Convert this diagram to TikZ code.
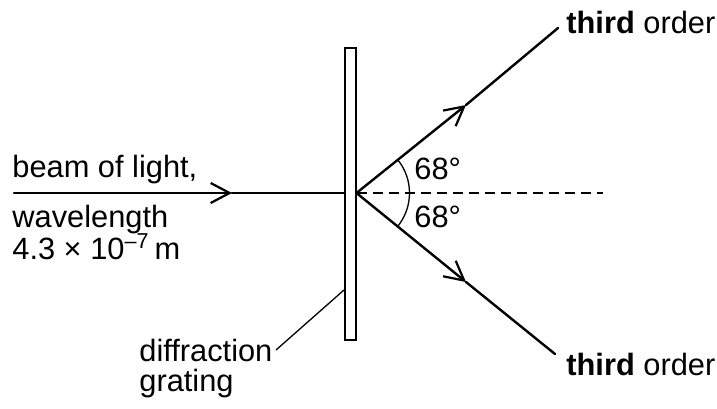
\documentclass[tikz,border=0pt]{standalone}
\usepackage{fontspec}
\setmainfont{Liberation Sans}
\usetikzlibrary{arrows.meta}
\begin{document}
\begin{tikzpicture}[x=0.5pt,y=-0.5pt,
  ray/.style={line width=1.2pt,line cap=round},
  tipped/.style={ray,-{Straight Barb[length=9.5pt,width=10pt,line width=1.1pt]}},
  thin/.style={line width=0.65pt},
  lbl/.style={inner sep=0pt,anchor=base west,font=\fontsize{15.4}{17}\selectfont}]
\useasboundingbox (0,0) rectangle (717,408);
% grating
\node[draw,line width=1pt,inner sep=0pt,minimum width=5.5pt,minimum height=146pt] (grating) at (350.5,194) {};
\coordinate (gin) at (344.5,193);
\coordinate (gp) at (356.5,193);
% incident beam
\coordinate (bstart) at (14,193);
\coordinate (btip) at (232,193);
\draw[tipped] (bstart) -- (btip);
\draw[ray] (btip) -- (gin);
% upper ray
\coordinate (utip) at (466,105);
\coordinate (uend) at (558,28);
\draw[tipped] (gp) -- (utip);
\draw[ray] (utip) -- (uend);
% lower ray
\coordinate (ltip) at (466,282);
\coordinate (lend) at (555,354);
\draw[tipped] (gp) -- (ltip);
\draw[ray] (ltip) -- (lend);
% normal
\coordinate (nend) at (603,193);
\draw[thin,dash pattern=on 5pt off 3pt] (gp) -- (nend);
% angle arc
\draw[thin] (gp) ++(39.4:26.5pt) arc[start angle=39.4,end angle=-39.4,radius=26.5pt];
% labels
\node[lbl] (a1) at (414,179) {68°};
\node[lbl] (a2) at (414,227) {68°};
\node[lbl] (t1) at (566,33) {\textbf{third} order};
\node[lbl] (t2) at (566,375) {\textbf{third} order};
\node[lbl] (b1) at (12,177) {beam of light,};
\node[lbl] (b2) at (12,227) {wavelength};
\node[lbl] (b3) at (12,259) {4.3 × 10\textsuperscript{–7}\,m};
\node[lbl] (d1) at (139,361) {diffraction};
\node[lbl] (d2) at (139,391) {grating};
% leader
\coordinate (lead) at (276,350);
\draw[thin] (grating.west |- 0,290) -- (lead);
\end{tikzpicture}
\end{document}
